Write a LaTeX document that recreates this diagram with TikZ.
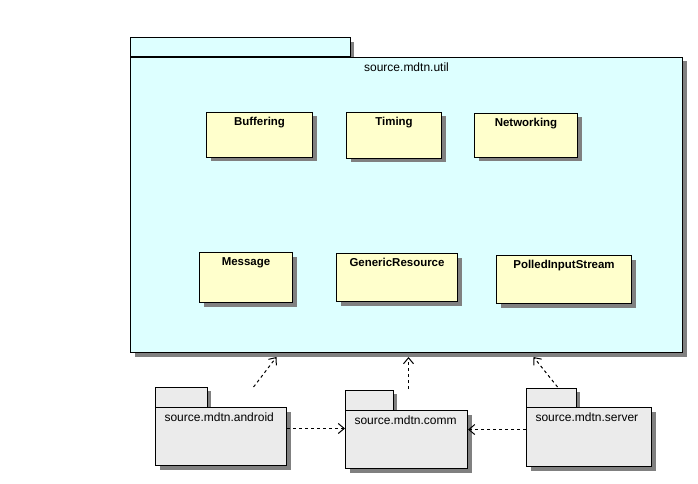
\documentclass[tikz,border=0pt]{standalone}
\usepackage{fontspec}
\setmainfont{Liberation Sans}
\usetikzlibrary{arrows.meta,shadows}

\definecolor{utilfill}{HTML}{DDFFFF}
\definecolor{classfill}{HTML}{FFFFCC}
\definecolor{pkgfill}{HTML}{EBEBEB}
\definecolor{shadowgray}{HTML}{808080}

\tikzset{every picture/.style={line width=0.75pt}}
\tikzset{
  shade box/.style={general shadow={fill=shadowgray, shadow xshift=3pt, shadow yshift=-3pt}},
  classbox/.style={draw, fill=classfill, shade box, anchor=north west, inner sep=0pt},
  pkgbox/.style={draw, fill=pkgfill, shade box, anchor=north west, inner sep=0pt},
  classname/.style={anchor=north, inner sep=0.75pt, yshift=-3pt, font=\fontsize{8.6}{10}\selectfont\bfseries},
  pkgname/.style={anchor=north west, inner sep=0.75pt, xshift=6pt, yshift=-3pt, font=\fontsize{9}{11}\selectfont},
  dep/.style={dash pattern=on 2.25pt off 2.25pt, -{Straight Barb[length=4.5pt,width=7.5pt]}}
}

\begin{document}
\begin{tikzpicture}[x=0.75pt,y=0.75pt,yscale=-1,xscale=1]
    \useasboundingbox (0,0) rectangle (698,484);

    % Package source.mdtn.util
    \draw [fill=utilfill, shade box] (130,38) rectangle (350,57);
    \node [draw, fill=utilfill, shade box, anchor=north west, inner sep=0pt,
           minimum width=414pt, minimum height=221.25pt,
           label={[anchor=north, inner sep=0.75pt, yshift=-3pt, font=\fontsize{9}{11}\selectfont]north:source.mdtn.util}]
        (util) at (130,57) {};

    % Classes
    \node [classbox, minimum width=79.5pt, minimum height=33.75pt, label={[classname]north:Buffering}] (buffering) at (206,112) {};
    \node [classbox, minimum width=71.25pt, minimum height=34.5pt, label={[classname]north:Timing}] (timing) at (346,112) {};
    \node [classbox, minimum width=77.25pt, minimum height=33pt, label={[classname]north:Networking}] (networking) at (474,113) {};
    \node [classbox, minimum width=69.75pt, minimum height=37.5pt, label={[classname]north:Message}] (message) at (199,252) {};
    \node [classbox, minimum width=90.75pt, minimum height=36pt, label={[classname]north:GenericResource}] (generic) at (336,253) {};
    \node [classbox, minimum width=101.25pt, minimum height=36pt, label={[classname]north:PolledInputStream}] (polled) at (496,255) {};

    % Package source.mdtn.android
    \draw [fill=pkgfill, shade box] (155,387) rectangle (207,407);
    \node [pkgbox, minimum width=98.25pt, minimum height=43.5pt, label={[pkgname]north west:source.mdtn.android}] (android) at (155,407) {};

    % Package source.mdtn.comm
    \draw [fill=pkgfill, shade box] (345,390) rectangle (393,410);
    \node [pkgbox, minimum width=91.5pt, minimum height=43.5pt, label={[pkgname]north west:source.mdtn.comm}] (comm) at (345,410) {};

    % Package source.mdtn.server
    \draw [fill=pkgfill, shade box] (526,388) rectangle (576,407);
    \node [pkgbox, minimum width=93.75pt, minimum height=44.25pt, label={[pkgname]north west:source.mdtn.server}] (server) at (526,407) {};

    % Dependencies
    \draw [dep] ([xshift=24.4pt, yshift=-15pt]android.north) -- ([xshift=-97.5pt, yshift=3pt]util.south);
    \draw [dep] ([xshift=1.5pt, yshift=-15.75pt]comm.north) -- ([xshift=1.5pt, yshift=3pt]util.south);
    \draw [dep] ([xshift=-23.6pt, yshift=-15pt]server.north) -- ([xshift=95.25pt, yshift=3pt]util.south);
    \draw [dep] ([yshift=-6pt]android.east) -- ([yshift=-6pt]android.east -| comm.west);
    \draw [dep] ([yshift=-5.6pt]server.west) -- ([yshift=-5.6pt]server.west -| comm.east);
\end{tikzpicture}
\end{document}
